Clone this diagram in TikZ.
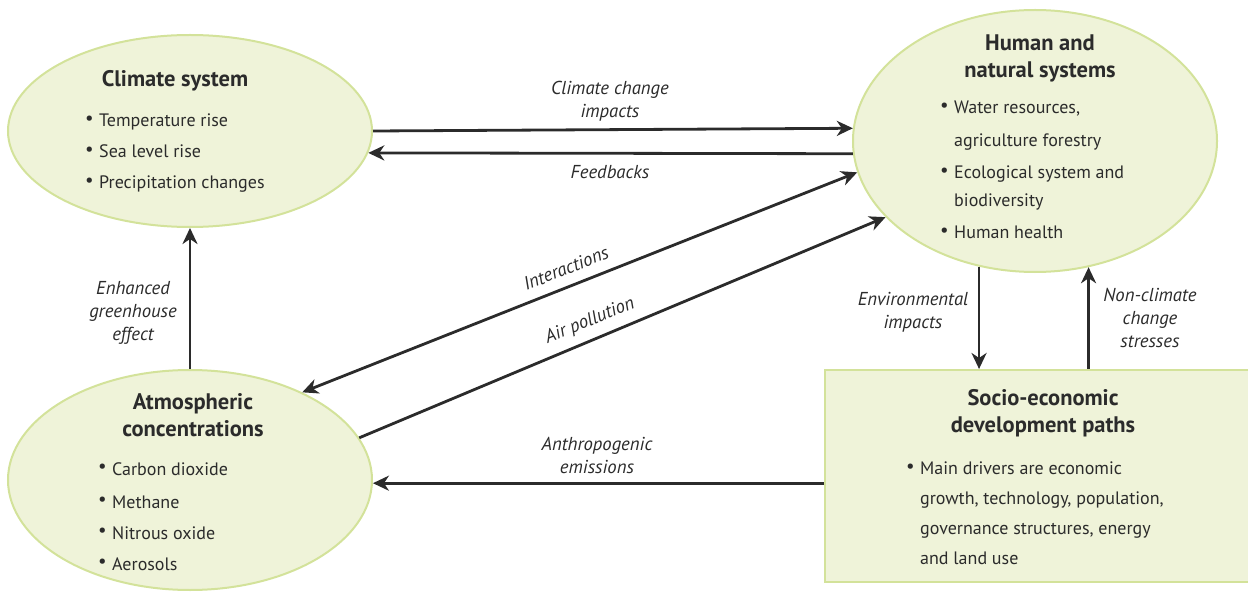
\documentclass[tikz,border=0pt]{standalone}
\usepackage{fontspec}
\setmainfont{PT Sans}
\usetikzlibrary{shapes.geometric,arrows.meta}
\definecolor{boxfill}{HTML}{EFF3D9}
\definecolor{boxline}{HTML}{D3E29A}
\definecolor{ink}{HTML}{2B2B2B}
\newcommand{\bul}{\makebox[14bp][l]{\raisebox{0.3ex}{\scalebox{1.05}{\textbullet}}}}
\newcommand{\ind}{\hspace*{14bp}}
\tikzset{
  shapebox/.style={fill=boxfill, draw=boxline, line width=2bp},
  blob/.style={shapebox, ellipse, inner sep=0},
  title/.style={font=\bfseries\fontsize{22.5bp}{27bp}\selectfont, text=ink, align=center, inner sep=0},
  items/.style={font=\fontsize{18bp}{31bp}\selectfont, text=ink, align=left, inner sep=0, anchor=north west},
  lab/.style={font=\itshape\fontsize{18.7bp}{23bp}\selectfont, text=ink, align=center, inner sep=0},
  arr/.style={draw=ink, line width=2.8bp, -{Stealth[length=16bp,width=15bp,inset=5bp]}},
  dbl/.style={draw=ink, line width=2.8bp, {Stealth[length=16bp,width=15bp,inset=5bp]}-{Stealth[length=16bp,width=15bp,inset=5bp]}}
}
\begin{document}
\begin{tikzpicture}[x=1bp,y=-1bp]
\useasboundingbox (0,0) rectangle (1248,593);
% shapes
\node[blob, minimum width=364bp, minimum height=192bp] (clim) at (190,131) {};
\node[blob, minimum width=364bp, minimum height=262bp] (hum) at (1035,141) {};
\node[blob, minimum width=364bp, minimum height=220bp] (atmo) at (190,480) {};
\node[shapebox, rectangle, inner sep=0, minimum width=433bp, minimum height=212bp] (soc) at (1041.5,476) {};
% titles
\node[title] (climT) at (175,81) {Climate system};
\node[title] (humT) at (1040,58) {Human and\\natural systems};
\node[title] (atmoT) at (193,415) {Atmospheric\\concentrations};
\node[title] (socT) at (1043,413) {Socio-economic\\development paths};
% items
\node[items] (climL) at (85,114) {\bul Temperature rise\\\bul Sea level rise\\\bul Precipitation changes};
\node[items, font=\fontsize{18bp}{32.5bp}\selectfont] (humL) at (940,101) {\bul Water resources,\\\ind agriculture forestry\\\bul Ecological system and\\[-5bp]\ind biodiversity\\\bul Human health};
\node[items] (atmoL) at (98,462) {\bul Carbon dioxide\\[2bp]\bul Methane\\\bul Nitrous oxide\\\bul Aerosols};
\node[items, font=\fontsize{18bp}{30bp}\selectfont] (socL) at (906,462) {\bul Main drivers are economic\\\ind growth, technology, population,\\\ind governance structures, energy\\\ind and land use};
% connectors
\draw[arr] (clim.east) -- (hum.176.5);
\draw[arr] (hum.184.4) -- (clim.-7.8);
\draw[dbl] (hum.190.5) -- (atmo.38);
\draw[arr] (atmo.14.4) -- (hum.207.9);
\draw[arr] (atmo.north) -- (clim.south);
\draw[arr] (hum.246.6) -- (hum.246.6 |- soc.north);
\draw[arr] (soc.north -| hum.293) -- (hum.293);
\draw[arr] (soc.west |- atmo.-1) -- (atmo.-1);
% labels
\node[lab] (lCCI) at (610,101) {Climate change\\impacts};
\node[lab] (lFB) at (610,172) {Feedbacks};
\node[lab] (lEG) at (133,313) {Enhanced\\greenhouse\\effect};
\node[lab] (lEI) at (913,312) {Environmental\\impacts};
\node[lab] (lNC) at (1150,318) {Non-climate\\change\\stresses};
\node[lab] (lAE) at (597,455) {Anthropogenic\\emissions};
\node[lab, rotate=21.5] (lInt) at (566,268) {Interactions};
\node[lab, rotate=22] (lAP) at (590,321) {Air pollution};
\end{tikzpicture}
\end{document}
